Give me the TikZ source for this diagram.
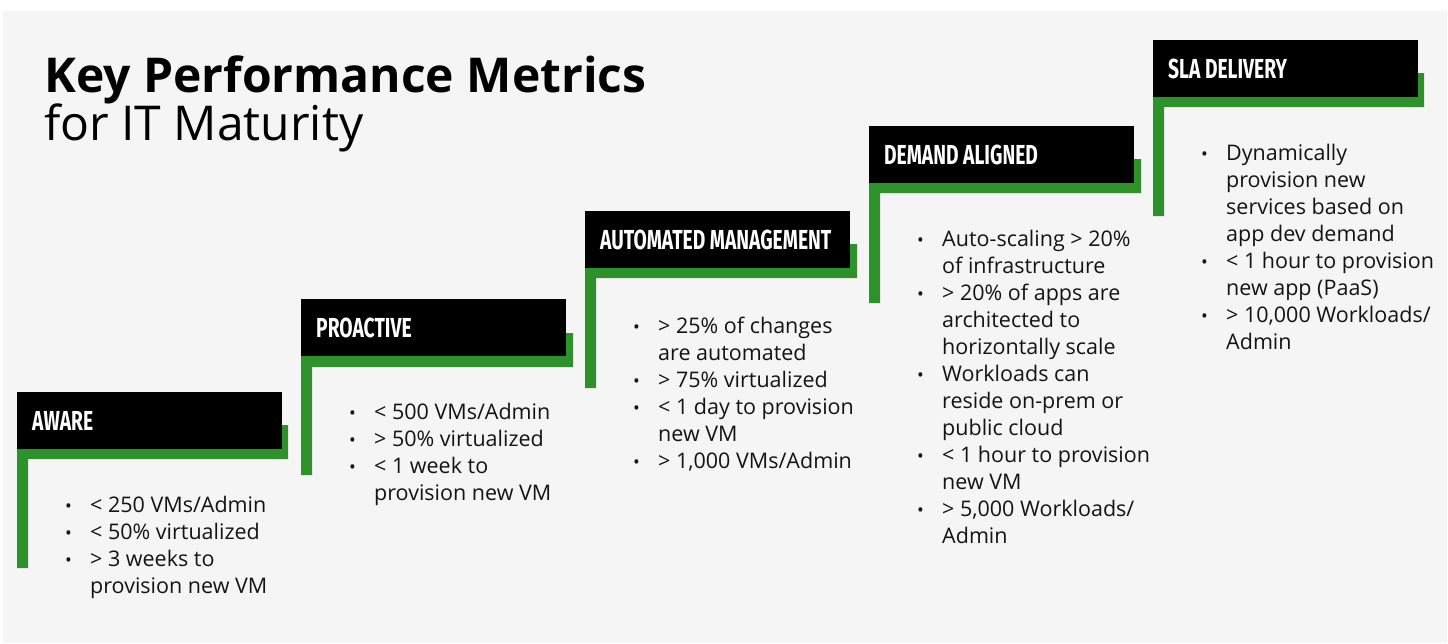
\documentclass[tikz,border=0pt]{standalone}
\usepackage{fontspec}
\setmainfont{Open Sans}
\newfontfamily\headfont[FakeStretch=0.7,WordSpace=1.0]{Fira Sans}
\usetikzlibrary{positioning}
\definecolor{kpigreen}{RGB}{45,146,42}
\definecolor{panel}{RGB}{245,245,245}
\newcommand{\kpilist}[1]{%
  \fontsize{21.5}{27}\selectfont
  \begin{tabular}{@{}p{26pt}@{}l@{}}#1\end{tabular}}
\newcommand{\bul}{\hspace{1pt}{\fontsize{18}{18}\selectfont\textbullet}}
\newcommand{\stagename}[1]{\makebox[235pt][l]{#1}}
\begin{document}
\begin{tikzpicture}[
   x=1pt,y=-1pt,
   stage/.style={fill=black,text=white,anchor=north west,inner xsep=15pt,inner ysep=0pt,
     minimum width=265pt,minimum height=57pt,font=\headfont\bfseries\fontsize{27.5}{28}\selectfont},
   shade/.style={fill=kpigreen},
   items/.style={anchor=north west,inner sep=0pt,text=black!92},
   every node/.style={font=\fontsize{20}{27}\selectfont}
 ]
  \useasboundingbox (0,0) rectangle (1448,643);
  \fill[white] (0,0) rectangle (1448,643);
  \fill[panel] (3,11) rectangle (1447,643);
  % title
  \node[anchor=base west,inner sep=0pt,font=\bfseries\fontsize{48}{50}\selectfont] (title) at (44,92) {Key Performance Metrics};
  \node[anchor=base west,inner sep=0pt,font=\fontsize{48}{50}\selectfont] (subtitle) at (44,140) {for IT Maturity};
  % green steps
  \fill[shade] (17,425) -- (288,425) -- (288,459) -- (28,459) -- (28,568) -- (17,568) -- cycle;
  \fill[shade] (301,333) -- (573,333) -- (573,367) -- (312,367) -- (312,475) -- (301,475) -- cycle;
  \fill[shade] (585,244) -- (857,244) -- (857,278) -- (596,278) -- (596,388) -- (585,388) -- cycle;
  \fill[shade] (869,159) -- (1141,159) -- (1141,193) -- (880,193) -- (880,303) -- (869,303) -- cycle;
  \fill[shade] (1153,73) -- (1424,73) -- (1424,107) -- (1164,107) -- (1164,216) -- (1153,216) -- cycle;
  % headers
  \node[stage] (aware) at (17,392) {\stagename{AWARE}};
  \node[stage] (proactive) at (301,299) {\stagename{PROACTIVE}};
  \node[stage] (automated) at (585,211) {\stagename{AUTOMATED MANAGEMENT}};
  \node[stage] (demand) at (869,126) {\stagename{DEMAND ALIGNED}};
  \node[stage] (sla) at (1153,40) {\stagename{SLA DELIVERY}};
  % metrics
  \node[items] (awarelist) at (64,493) {\kpilist{%
    \bul & < 250 VMs/Admin\\
    \bul & < 50\% virtualized\\
    \bul & > 3 weeks to\\
         & provision new VM}};
  \node[items] (proactivelist) at (348,400) {\kpilist{%
    \bul & < 500 VMs/Admin\\
    \bul & > 50\% virtualized\\
    \bul & < 1 week to\\
         & provision new VM}};
  \node[items] (automatedlist) at (632,314) {\kpilist{%
    \bul & > 25\% of changes\\
         & are automated\\
    \bul & > 75\% virtualized\\
    \bul & < 1 day to provision\\
         & new VM\\
    \bul & > 1,000 VMs/Admin}};
  \node[items] (demandlist) at (916,227) {\kpilist{%
    \bul & Auto-scaling > 20\%\\
         & of infrastructure\\
    \bul & > 20\% of apps are\\
         & architected to\\
         & horizontally scale\\
    \bul & Workloads can\\
         & reside on-prem or\\
         & public cloud\\
    \bul & < 1 hour to provision\\
         & new VM\\
    \bul & > 5,000 Workloads/\\
         & Admin}};
  \node[items] (slalist) at (1200,141) {\kpilist{%
    \bul & Dynamically\\
         & provision new\\
         & services based on\\
         & app dev demand\\
    \bul & < 1 hour to provision\\
         & new app (PaaS)\\
    \bul & > 10,000 Workloads/\\
         & Admin}};
 \end{tikzpicture}
\end{document}
